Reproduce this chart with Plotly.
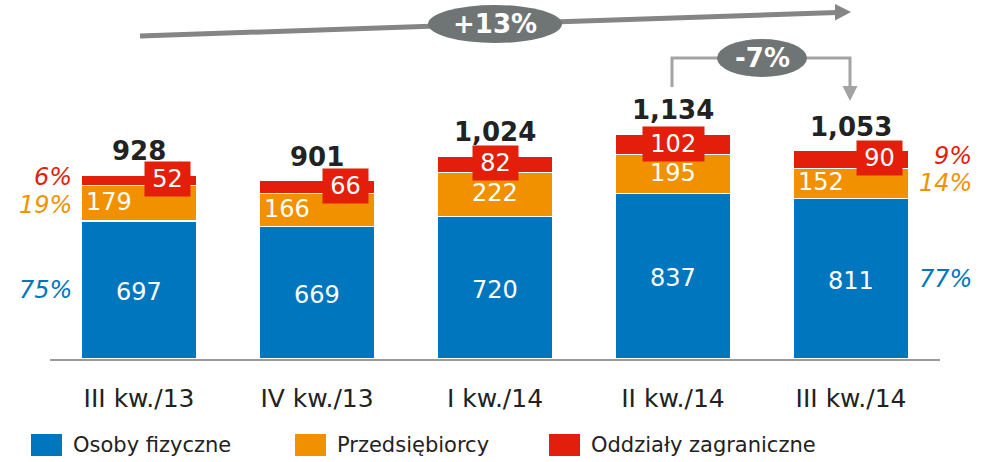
import plotly.graph_objects as go

# ---- data ----
categories = ["III kw./13", "IV kw./13", "I kw./14", "II kw./14", "III kw./14"]
osoby_fizyczne = [697, 669, 720, 837, 811]
przedsiebiorcy = [179, 166, 222, 195, 152]
oddzialy_zagraniczne = [52, 66, 82, 102, 90]
series_names = ["Osoby fizyczne", "Przedsiębiorcy", "Oddziały zagraniczne"]
growth_yoy = "+13%"
growth_qoq = "-7%"

# ---- style ----
BLUE, ORANGE, RED = "#0076BE", "#F29100", "#E31E0B"
GREY_DARK = "#6F7474"
GREY_ARROW = "#858585"
GREY_BRACKET = "#A3A3A3"
TXT = "#222222"
FONT = "DejaVu Sans"
W, H = 986, 462
ML, MR, MT, MB = 50, 46, 0, 103
PX_PER_UNIT = 0.198
plot_h = H - MT - MB
plot_w = W - ML - MR

def fx(px):
    return (px - ML) / plot_w

def fy(py):
    return (H - MB - py) / plot_h

series = [osoby_fizyczne, przedsiebiorcy, oddzialy_zagraniczne]
colors = [BLUE, ORANGE, RED]
totals = [sum(v) for v in zip(*series)]

fig = go.Figure()
for name, vals, col in zip(series_names, series, colors):
    fig.add_trace(go.Bar(
        x=categories, y=vals, name=name,
        marker=dict(color=col, line=dict(color="white", width=1.5)),
        showlegend=False, hoverinfo="skip",
    ))

annotations = []
offset_bars = [True, True, False, False, True]
for i, cat in enumerate(categories):
    b, o, r = osoby_fizyczne[i], przedsiebiorcy[i], oddzialy_zagraniczne[i]
    annotations.append(dict(x=cat, y=b / 2, text=str(b), showarrow=False,
                            xanchor="center", yanchor="middle", yshift=-2,
                            font=dict(family=FONT, size=24, color="white")))
    annotations.append(dict(x=cat, y=b + o / 2, text=str(o), showarrow=False,
                            xanchor="center", yanchor="middle",
                            xshift=-30 if offset_bars[i] else 0, yshift=1,
                            font=dict(family=FONT, size=24, color="white")))
    annotations.append(dict(x=cat, y=b + o + r / 2, text=str(r), showarrow=False,
                            xanchor="center", yanchor="middle",
                            xshift=28 if offset_bars[i] else 0, yshift=1,
                            bgcolor=RED, width=12 + 15.5 * len(str(r)), height=32,
                            font=dict(family=FONT, size=24, color="white")))
    annotations.append(dict(x=cat, y=totals[i], text=f"<b>{totals[i]:,}</b>",
                            showarrow=False, xanchor="center", yanchor="middle", yshift=24,
                            font=dict(family=FONT, size=26, color=TXT)))

# percentage labels on first and last bars
pct_yshift = [0, -2, 3]
for idx, anchor_shift in [(0, -65), (len(categories) - 1, 123)]:
    cum = 0
    for k, (vals, col) in enumerate(zip(series, colors)):
        v = vals[idx]
        pct = round(100 * v / totals[idx])
        annotations.append(dict(x=categories[idx], y=cum + v / 2,
                                text=f"<i>{pct}%</i>", showarrow=False,
                                xanchor="right", yanchor="middle",
                                xshift=anchor_shift, yshift=pct_yshift[k] if idx == 0 else (3 if k == 2 else 0),
                                font=dict(family=FONT, size=24, color=col)))
        cum += v

# growth bubble texts
annotations.append(dict(xref="paper", yref="paper", x=fx(495), y=fy(24),
                        xanchor="center", yanchor="middle",
                        text=f"<b>{growth_yoy}</b>", showarrow=False,
                        font=dict(family=FONT, size=26, color="white")))
annotations.append(dict(xref="paper", yref="paper", x=fx(762), y=fy(58),
                        xanchor="center", yanchor="middle",
                        text=f"<b>{growth_qoq}</b>", showarrow=False,
                        font=dict(family=FONT, size=26, color="white")))

# manual legend
legend_x = [31, 295, 549]
shapes = []
for lx, name, col in zip(legend_x, series_names, colors):
    shapes.append(dict(type="rect", xref="paper", yref="paper",
                       x0=fx(lx), x1=fx(lx + 31), y0=fy(456), y1=fy(434),
                       fillcolor=col, line=dict(width=0)))
    annotations.append(dict(xref="paper", yref="paper", x=fx(lx + 40), y=fy(445),
                            xanchor="left", yanchor="middle", text=name, showarrow=False,
                            font=dict(family=FONT, size=21, color=TXT)))

# +13% arrow
shapes.append(dict(type="line", xref="paper", yref="paper",
                   x0=fx(140), y0=fy(36), x1=fx(837), y1=fy(12.5),
                   line=dict(color=GREY_ARROW, width=5)))
shapes.append(dict(type="path", xref="paper", yref="paper",
                   path=f"M {fx(835)} {fy(4)} L {fx(851)} {fy(12)} L {fx(835)} {fy(20.5)} Z",
                   fillcolor=GREY_ARROW, line=dict(width=0)))
shapes.append(dict(type="circle", xref="paper", yref="paper",
                   x0=fx(428), x1=fx(562), y0=fy(43), y1=fy(5),
                   fillcolor=GREY_DARK, line=dict(width=0)))
# -7% bracket
shapes.append(dict(type="path", xref="paper", yref="paper",
                   path=(f"M {fx(672)} {fy(87)} L {fx(672)} {fy(58)} "
                         f"L {fx(850)} {fy(58)} L {fx(850)} {fy(88)}"),
                   line=dict(color=GREY_BRACKET, width=3)))
shapes.append(dict(type="path", xref="paper", yref="paper",
                   path=f"M {fx(842.5)} {fy(86)} L {fx(857.5)} {fy(86)} L {fx(850)} {fy(101)} Z",
                   fillcolor=GREY_BRACKET, line=dict(width=0)))
shapes.append(dict(type="circle", xref="paper", yref="paper",
                   x0=fx(717), x1=fx(807), y0=fy(77), y1=fy(39),
                   fillcolor=GREY_DARK, line=dict(width=0)))

fig.update_layout(
    barmode="stack", bargap=0.348,
    width=W, height=H,
    margin=dict(l=ML, r=MR, t=MT, b=MB, pad=0),
    plot_bgcolor="white", paper_bgcolor="white",
    showlegend=False,
    annotations=annotations, shapes=shapes,
    font=dict(family=FONT, color=TXT),
)
fig.update_xaxes(range=[-0.5, 4.5], showline=True, linecolor="#9B9B9B", linewidth=2,
                 ticks="outside", ticklen=16, tickcolor="rgba(0,0,0,0)",
                 tickfont=dict(family=FONT, size=25, color=TXT), showgrid=False)
fig.update_yaxes(range=[0, plot_h / PX_PER_UNIT], visible=False, showgrid=False)

fig.write_html("out.html", config={"displayModeBar": False},
               post_script="document.body.style.margin='0';")
